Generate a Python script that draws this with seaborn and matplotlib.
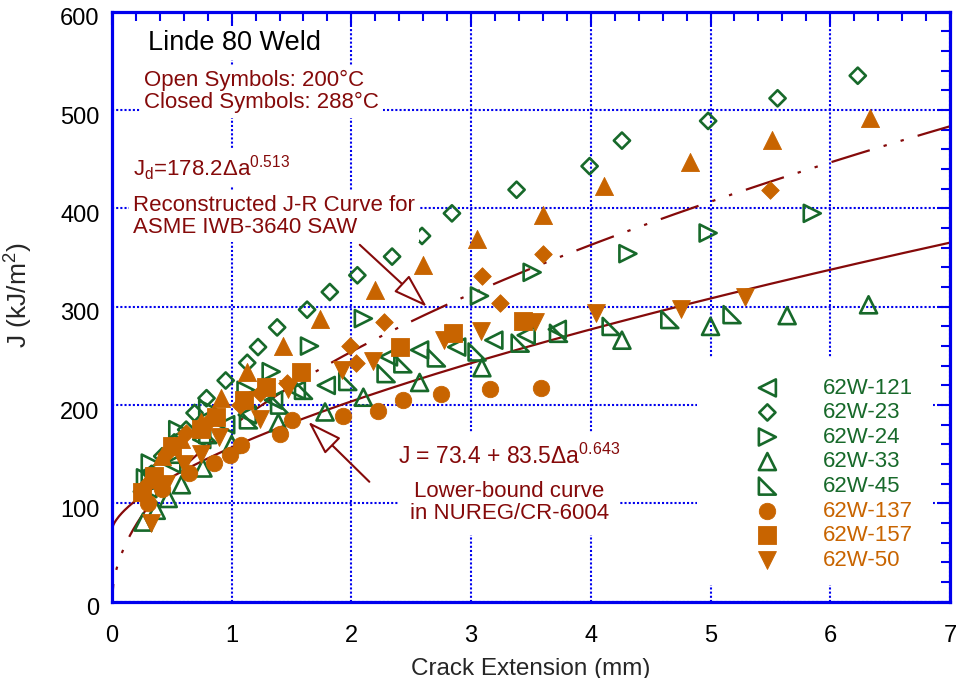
import numpy as np
import matplotlib
matplotlib.use("Agg")
import matplotlib.pyplot as plt
from matplotlib.path import Path
from matplotlib.patches import Rectangle
from matplotlib.ticker import MultipleLocator
from matplotlib.transforms import ScaledTranslation
import seaborn as sns

# ---- data (crack extension mm, J kJ/m2) ----
# open symbols, 200 C
w121_x = [0.30, 0.50, 0.75, 0.95, 1.13, 1.35, 1.54, 1.79, 2.31, 2.57, 2.88, 3.19, 3.46, 3.72]
w121_j = [115, 140, 165, 180, 190, 205, 215, 220, 249, 256, 259, 266, 271, 277]

w23_x = [0.25, 0.33, 0.42, 0.52, 0.62, 0.69, 0.79, 0.95, 1.13, 1.22, 1.38, 1.63, 1.82, 2.05,
         2.34, 2.59, 2.84, 3.38, 3.99, 4.26, 4.98, 5.56, 6.23]
w23_j = [112, 130, 148, 162, 175, 192, 207, 225, 243, 259, 279, 297, 315, 332,
         351, 372, 395, 419, 443, 469, 489, 512, 535]

w24_x = [0.28, 0.32, 0.55, 0.80, 1.12, 1.33, 1.65, 2.10, 3.07, 3.51, 4.31, 4.98, 5.85]
w24_j = [126, 141, 175, 196, 215, 234, 260, 288, 311, 335, 354, 375, 395]

w33_x = [0.26, 0.37, 0.47, 0.58, 0.76, 1.00, 1.39, 1.78, 2.10, 2.57, 3.09, 4.26, 5.00, 5.64, 6.32]
w33_j = [81, 93, 105, 119, 136, 160, 182, 193, 208, 223, 238, 266, 280, 291, 302]

w45_x = [0.32, 0.55, 0.80, 1.14, 1.40, 1.60, 1.97, 2.29, 2.43, 2.71, 3.05, 3.41, 3.73, 4.17, 4.66, 5.18]
w45_j = [124, 150, 170, 185, 200, 215, 224, 232, 242, 248, 254, 263, 273, 280, 287, 292]

# closed symbols, 288 C
w137_x = [0.30, 0.42, 0.64, 0.85, 0.99, 1.08, 1.40, 1.50, 1.93, 2.22, 2.43, 2.75, 3.16, 3.58]
w137_j = [100, 115, 131, 141, 149, 159, 171, 185, 189, 194, 205, 211, 216, 217]

w157_x = [0.25, 0.35, 0.50, 0.74, 0.87, 1.10, 1.29, 1.58, 2.41, 2.85, 3.43]
w157_j = [112, 128, 158, 176, 188, 205, 218, 234, 259, 273, 286]

w50_x = [0.33, 0.45, 0.60, 0.74, 0.89, 1.24, 1.47, 1.92, 2.18, 2.77, 3.08, 3.53, 4.04, 4.75, 5.29]
w50_j = [80, 120, 140, 150, 168, 186, 216, 236, 245, 266, 275, 285, 294, 298, 310]

# closed symbols not listed in the legend
cdia_x = [0.28, 0.45, 0.62, 0.82, 1.07, 1.24, 1.46, 1.99, 2.04, 2.27, 3.09, 3.24, 3.60, 5.50]
cdia_j = [118, 150, 172, 185, 200, 212, 222, 260, 243, 285, 331, 304, 354, 419]

ctri_x = [0.30, 0.42, 0.58, 0.74, 0.91, 1.13, 1.43, 1.74, 2.20, 2.60, 3.05, 3.60, 4.11, 4.83, 5.51, 6.33]
ctri_j = [125, 148, 166, 183, 207, 234, 260, 288, 317, 342, 369, 393, 423, 447, 470, 492]

# fitted curves
lb_c, lb_a, lb_n = 73.4, 83.5, 0.643     # NUREG/CR-6004 lower bound
jd_a, jd_n = 178.2, 0.513                # reconstructed J-R curve

GREEN = "#17692A"
ORANGE = "#C86400"
DARK = "#850A0A"
BLUE = "#0000EE"

sns.set_theme(style="white")
plt.rcParams.update({
    "font.family": ["Liberation Sans", "DejaVu Sans"],
    "mathtext.fontset": "custom",
    "mathtext.rm": "Liberation Sans",
    "mathtext.it": "Liberation Sans:italic",
    "mathtext.bf": "Liberation Sans:bold",
    "lines.scale_dashes": True,
})

fig = plt.figure(figsize=(9.61, 6.78), dpi=100)
ax = fig.add_axes([0.1165, 0.1125, 0.872, 0.8701])

# curves
da = np.linspace(0, 7, 600)
sns.lineplot(x=da, y=lb_c + lb_a * da ** lb_n, ax=ax, color=DARK, lw=1.6, zorder=2)
sns.lineplot(x=da, y=jd_a * da ** jd_n, ax=ax, color=DARK, lw=1.6, zorder=2,
             linestyle=(10, (18, 6.5, 1.5, 6.5, 1.5, 6.5)))

rtri = Path([(-1, 1), (-1, -1), (1, -1), (-1, 1)],
            [Path.MOVETO, Path.LINETO, Path.LINETO, Path.CLOSEPOLY])

open_series = [
    (w121_x, w121_j, "<", 150, "62W-121"),
    (w23_x, w23_j, "D", 68, "62W-23"),
    (w24_x, w24_j, ">", 150, "62W-24"),
    (w33_x, w33_j, "^", 150, "62W-33"),
    (w45_x, w45_j, rtri, 150, "62W-45"),
]
closed_series = [
    (cdia_x, cdia_j, "D", 80, "_dia"),
    (ctri_x, ctri_j, "^", 170, "_tri"),
    (w137_x, w137_j, "o", 140, "62W-137"),
    (w157_x, w157_j, "s", 165, "62W-157"),
    (w50_x, w50_j, "v", 165, "62W-50"),
]

handles = {}
for xs, js, mk, s, lab in open_series:
    sns.scatterplot(x=xs, y=js, ax=ax, marker=mk, s=s, facecolor="none",
                    edgecolor=GREEN, linewidth=1.9, zorder=3, label=lab)
    handles[lab] = ax.collections[-1]
for xs, js, mk, s, lab in closed_series:
    sns.scatterplot(x=xs, y=js, ax=ax, marker=mk, s=s, facecolor=ORANGE,
                    edgecolor=ORANGE, linewidth=0.6, zorder=4, label=lab)
    handles[lab] = ax.collections[-1]

ax.set_xlim(0, 7)
ax.set_ylim(0, 600)
ax.xaxis.set_major_locator(MultipleLocator(1))
ax.xaxis.set_minor_locator(MultipleLocator(0.2))
ax.yaxis.set_major_locator(MultipleLocator(100))
ax.yaxis.set_minor_locator(MultipleLocator(20))
ax.set_axisbelow(True)
ax.grid(True, which="major", color=BLUE, linestyle=(0, (1, 1)), linewidth=1.5)
for sp in ax.spines.values():
    sp.set_color(BLUE)
    sp.set_linewidth(2.3)
ax.tick_params(which="both", direction="in", top=True, right=True, color=BLUE,
               width=1.5, labelcolor="black")
ax.tick_params(which="major", length=9, labelsize=17)
ax.tick_params(which="minor", length=6.5)
ax.tick_params(axis="x", which="major", pad=16.5)
ax.tick_params(axis="y", which="major", pad=9)
ax.set_xlabel("Crack Extension (mm)", fontsize=17.5, labelpad=8)
ax.set_ylabel("J (kJ/m$^{\\mathrm{2}}$)", fontsize=19)
ax.yaxis.set_label_coords(-0.092, 0.52)

# y tick labels sit a little below their ticks in the reference
shift = ScaledTranslation(0, -0.05, fig.dpi_scale_trans)
for t in ax.yaxis.get_major_ticks():
    t.label1.set_transform(t.label1.get_transform() + shift)

# white blank behind the legend
ax.add_patch(Rectangle((0.698, 0.028), 0.282, 0.387, transform=ax.transAxes,
                       fc="white", ec="none", zorder=1))

box = dict(fc="white", ec="none", pad=3)
ax.text(0.30, 568, "Linde 80 Weld", fontsize=19.5, color="black",
        va="center", ha="left", bbox=box, zorder=5)
ax.text(0.27, 519, "Open Symbols: 200°C\nClosed Symbols: 288°C", fontsize=16,
        color=DARK, va="center", ha="left", linespacing=1.1, bbox=box, zorder=5)
ax.text(0.175, 441, "J$_{\\mathrm{d}}$=178.2Δa$^{\\mathrm{0.513}}$", fontsize=16,
        color=DARK, va="center", ha="left", bbox=box, zorder=5)
ax.text(0.175, 392, "Reconstructed J-R Curve for\nASME IWB-3640 SAW", fontsize=16,
        color=DARK, va="center", ha="left", linespacing=1.1, bbox=box, zorder=5)
wide = dict(fc="white", ec="none", pad=8)
ax.text(3.32, 101, "Lower-bound curve\nin NUREG/CR-6004", fontsize=16,
        color=DARK, va="center", ha="center", linespacing=1.1, bbox=wide, zorder=5)
ax.text(3.32, 148, "J = 73.4 + 83.5Δa$^{\\mathrm{0.643}}$", fontsize=16.5,
        color=DARK, va="center", ha="center", bbox=wide, zorder=5)

arrow = dict(arrowstyle="-|>,head_length=1.08,head_width=0.35", mutation_scale=20,
             fc="white", ec=DARK, lw=1.5, shrinkA=0, shrinkB=0)
ax.annotate("", xy=(2.63, 300), xytext=(2.07, 363), arrowprops=arrow, zorder=6)
ax.annotate("", xy=(1.64, 183), xytext=(2.15, 122), arrowprops=arrow, zorder=6)

leg_labels = ["62W-121", "62W-23", "62W-24", "62W-33", "62W-45",
              "62W-137", "62W-157", "62W-50"]
leg_colors = [GREEN] * 5 + [ORANGE] * 3
ax.legend([handles[l] for l in leg_labels], leg_labels, loc="upper left",
          bbox_to_anchor=(0.745, 0.4136), frameon=False, fontsize=16,
          handlelength=1.0, handletextpad=2.0, labelspacing=0.16,
          labelcolor=leg_colors, borderpad=0.4)

fig.savefig("out.png", dpi=100)
